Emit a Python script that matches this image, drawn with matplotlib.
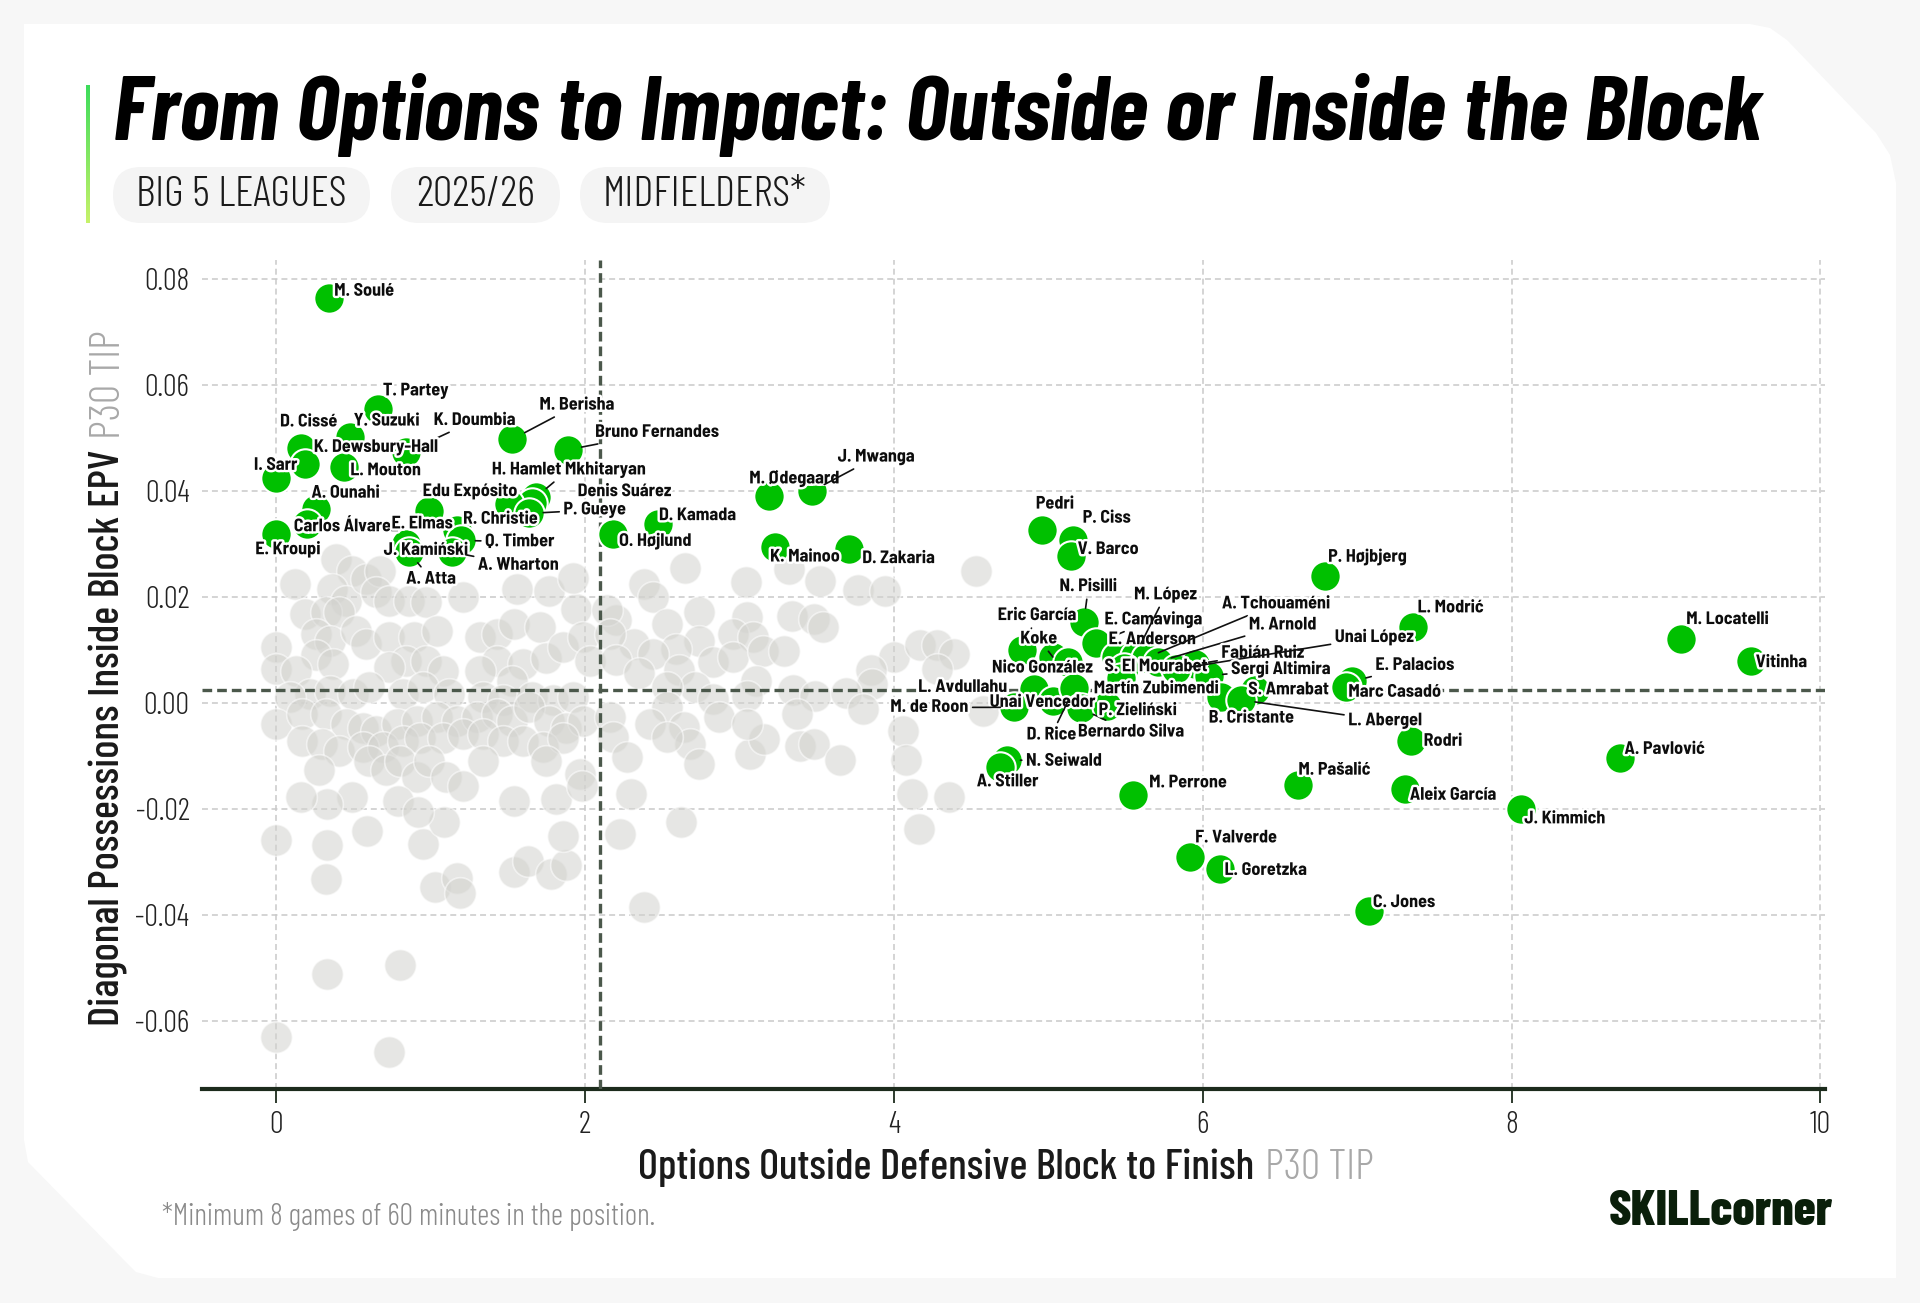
import numpy as np
import matplotlib
matplotlib.use("Agg")
import matplotlib.pyplot as plt
import matplotlib.patheffects as pe
from matplotlib.patches import Polygon, FancyBboxPatch
from matplotlib.transforms import IdentityTransform
from matplotlib.colors import LinearSegmentedColormap

# ---------------- data ----------------
player_names = [
    "M. Soulé", "T. Partey", "D. Cissé", "Y. Suzuki", "K. Doumbia", "K. Dewsbury-Hall",
    "L. Mouton", "I. Sarr", "M. Berisha", "Bruno Fernandes", "H. Hamlet Mkhitaryan",
    "Denis Suárez", "Edu Expósito", "P. Gueye", "A. Ounahi", "Carlos Álvarez", "E. Kroupi",
    "E. Elmas", "R. Christie", "Q. Timber", "J. Kamiński", "A. Atta", "A. Wharton",
    "O. Højlund", "D. Kamada", "M. Ødegaard", "J. Mwanga", "K. Mainoo", "D. Zakaria",
    "Pedri", "P. Ciss", "V. Barco", "N. Pisilli", "Eric García", "Koke", "E. Camavinga",
    "Nico González", "E. Anderson", "M. López", "A. Tchouaméni", "M. Arnold",
    "S. El Mourabet", "Fabián Ruiz", "Unai López", "Sergi Altimira", "Martín Zubimendi",
    "S. Amrabat", "B. Cristante", "L. Abergel", "L. Avdullahu", "Unai Vencedor",
    "M. de Roon", "D. Rice", "Bernardo Silva", "P. Zieliński", "E. Palacios", "Marc Casadó",
    "P. Højbjerg", "L. Modrić", "M. Locatelli", "Vitinha", "Rodri", "A. Pavlović",
    "Aleix García", "J. Kimmich", "C. Jones", "M. Pašalić", "M. Perrone", "F. Valverde",
    "L. Goretzka", "N. Seiwald", "A. Stiller",
]
player_x = [
    0.34, 0.66, 0.16, 0.48, 0.84, 0.19,
    0.44, 0.00, 1.53, 1.89, 1.68,
    1.66, 1.51, 1.64, 0.26, 0.20, 0.00,
    0.99, 1.17, 1.20, 0.84, 0.86, 1.14,
    2.18, 2.47, 3.19, 3.47, 3.23, 3.71,
    4.96, 5.16, 5.15, 5.23, 4.83, 5.03, 5.31,
    5.13, 5.44, 5.56, 5.63, 5.71,
    5.49, 5.95, 5.83, 6.04, 5.47,
    6.34, 6.12, 6.25, 4.91, 5.03,
    4.78, 5.17, 5.21, 5.38, 6.97, 6.93,
    6.79, 7.36, 9.10, 9.55, 7.35, 8.70,
    7.31, 8.06, 7.08, 6.62, 5.55, 5.92,
    6.11, 4.73, 4.69,
]
player_y = [
    0.0763, 0.0554, 0.0481, 0.0501, 0.0472, 0.0450,
    0.0444, 0.0424, 0.0497, 0.0477, 0.0387,
    0.0377, 0.0375, 0.0357, 0.0365, 0.0337, 0.0319,
    0.0362, 0.0325, 0.0306, 0.0299, 0.0284, 0.0284,
    0.0319, 0.0337, 0.0390, 0.0399, 0.0293, 0.0290,
    0.0326, 0.0306, 0.0277, 0.0152, 0.0100, 0.0086, 0.0112,
    0.0077, 0.0086, 0.0088, 0.0084, 0.0077,
    0.0065, 0.0072, 0.0063, 0.0051, 0.0047,
    0.0024, 0.0010, 0.0005, 0.0026, 0.0003,
    -0.0009, 0.0028, -0.0011, -0.0006, 0.0040, 0.0030,
    0.0238, 0.0142, 0.0120, 0.0078, -0.0073, -0.0104,
    -0.0163, -0.0201, -0.0393, -0.0155, -0.0175, -0.0292,
    -0.0314, -0.0108, -0.0122,
]

others_x = [
    0.39, 0.49, 0.12, 0.36, 0.45, 0.58, 0.67, 0.65, 0.73, 0.86, 0.97, 1.21, 1.56, 1.77, 1.94, 1.92,
    0.19, 0.32, 0.41, 0.26, 0.35, 0.52, 0.58, 0.00, 0.00, 0.26, 0.37, 0.13, 0.73, 0.89, 1.04, 0.84,
    0.97, 1.08, 0.73, 1.32, 1.43, 1.54, 1.71, 1.43, 1.32, 1.60, 1.53, 1.75, 1.86, 1.99, 2.03,
    0.22, 0.35, 0.50, 0.60, 0.82, 0.95, 1.12, 1.34, 1.47, 1.66, 1.79, 1.92, 0.09,
    0.00, 0.17, 0.32, 0.45, 0.56, 0.65, 0.78, 0.91, 1.04, 1.17, 1.30, 1.43, 1.53, 1.64, 1.77, 1.88, 1.99,
    0.17, 0.30, 0.41, 0.56, 0.69, 0.82, 0.93, 1.08, 1.21, 1.34, 1.47, 1.60, 1.73, 1.86,
    0.28, 0.60, 0.71, 0.80, 0.91, 0.99, 1.10, 1.34, 1.75, 1.97,
    0.00, 0.33, 0.32, 0.59, 0.49, 0.33, 0.16, 0.95, 1.09, 0.79, 0.92, 1.03, 1.17, 1.19,
    1.54, 1.63, 1.78, 1.88, 1.86, 1.81, 1.54, 1.21, 1.98, 2.38, 0.33, 0.80, 0.00, 0.73,
    2.65, 2.38, 2.44, 3.04, 3.32, 3.52, 3.77, 3.94, 4.53,
    2.74, 2.53, 2.20, 2.14, 3.05, 2.96, 3.09, 3.34, 3.48, 3.54,
    2.74, 2.59, 2.32, 2.16, 2.44, 2.20, 2.35, 2.83, 2.96, 3.15, 3.29, 3.11, 2.61, 2.71, 2.53,
    4.00, 4.17, 4.28, 4.39, 4.28, 3.85, 3.86, 3.35, 3.49, 3.69, 3.80, 3.05, 2.83, 2.87, 2.53,
    2.42, 2.64, 2.16, 2.18, 2.27, 2.68, 2.74, 2.53, 3.07, 3.16, 3.37, 3.39, 3.48, 3.65, 3.05,
    4.06, 4.58, 4.08, 4.12, 4.36, 4.16, 2.30, 2.23, 2.62,
]
others_y = [
    0.0271, 0.0249, 0.0224, 0.0214, 0.0192, 0.0233, 0.0249, 0.0208, 0.0192, 0.0192, 0.0189, 0.0199, 0.0214, 0.0211, 0.0177, 0.0236,
    0.0167, 0.0170, 0.0170, 0.0130, 0.0117, 0.0136, 0.0111, 0.0104, 0.0063, 0.0089, 0.0073, 0.0060, 0.0123, 0.0123, 0.0136, 0.0079,
    0.0079, 0.0060, 0.0067, 0.0123, 0.0130, 0.0148, 0.0142, 0.0079, 0.0060, 0.0073, 0.0041, 0.0085, 0.0104, 0.0123, 0.0079,
    0.0016, 0.0022, 0.0016, 0.0029, 0.0016, 0.0029, 0.0016, 0.0010, 0.0004, 0.0010, 0.0004, 0.0010, 0.0010,
    -0.0040, -0.0022, -0.0022, -0.0040, -0.0047, -0.0053, -0.0040, -0.0034, -0.0028, -0.0034, -0.0028, -0.0022, -0.0034, -0.0009, -0.0034, -0.0047, -0.0034,
    -0.0072, -0.0078, -0.0091, -0.0084, -0.0084, -0.0072, -0.0066, -0.0066, -0.0059, -0.0059, -0.0072, -0.0072, -0.0084, -0.0066,
    -0.0128, -0.0110, -0.0128, -0.0110, -0.0141, -0.0110, -0.0141, -0.0110, -0.0110, -0.0135,
    -0.0259, -0.0268, -0.0333, -0.0242, -0.0179, -0.0191, -0.0179, -0.0267, -0.0226, -0.0185, -0.0207, -0.0347, -0.0330, -0.0360,
    -0.0320, -0.0298, -0.0323, -0.0307, -0.0251, -0.0182, -0.0186, -0.0157, -0.0157, -0.0386, -0.0512, -0.0496, -0.0630, -0.0660,
    0.0254, 0.0224, 0.0199, 0.0227, 0.0252, 0.0230, 0.0213, 0.0211, 0.0248,
    0.0171, 0.0149, 0.0155, 0.0174, 0.0162, 0.0130, 0.0124, 0.0164, 0.0158, 0.0142,
    0.0117, 0.0101, 0.0111, 0.0130, 0.0092, 0.0080, 0.0055, 0.0076, 0.0086, 0.0098, 0.0098, 0.0041, 0.0061, 0.0029, 0.0029,
    0.0086, 0.0108, 0.0108, 0.0092, 0.0064, 0.0061, 0.0036, 0.0024, 0.0012, 0.0018, -0.0013, 0.0012, 0.0006, -0.0028, -0.0009,
    -0.0040, -0.0046, -0.0028, -0.0065, -0.0103, -0.0078, -0.0116, -0.0065, -0.0097, -0.0069, -0.0022, -0.0081, -0.0078, -0.0109, -0.0040,
    -0.0053, -0.0015, -0.0109, -0.0172, -0.0179, -0.0238, -0.0172, -0.0248, -0.0226,
]

mean_x = 2.10
mean_y = 0.0024
x_ticks = [0, 2, 4, 6, 8, 10]
y_ticks = [0.08, 0.06, 0.04, 0.02, 0.00, -0.02, -0.04, -0.06]
y_tick_labels = ["0.08", "0.06", "0.04", "0.02", "0.00", "-0.02", "-0.04", "-0.06"]

title = "From Options to Impact: Outside or Inside the Block"
tags = ["BIG 5 LEAGUES", "2025/26", "MIDFIELDERS*"]
x_label = "Options Outside Defensive Block to Finish"
y_label = "Diagonal Possessions Inside Block EPV"
unit_label = "P30 TIP"
footnote = "*Minimum 8 games of 60 minutes in the position."

# label offsets in points (dx, dy); names in RIGHT_ALIGNED anchor on the text's right edge
label_offsets = {
    "M. Soulé": (4, 5), "T. Partey": (3.5, 13), "D. Cissé": (-15, 18.5), "Y. Suzuki": (2.5, 11.5),
    "K. Doumbia": (20, 23), "K. Dewsbury-Hall": (6, 12), "L. Mouton": (4.5, -2.5), "I. Sarr": (-16, 9),
    "M. Berisha": (19.5, 24.5), "Bruno Fernandes": (19.5, 12.5), "H. Hamlet Mkhitaryan": (-31.5, 20),
    "Denis Suárez": (32.5, 8), "Edu Expósito": (6, 9), "P. Gueye": (24.5, 2.5), "A. Ounahi": (-3.5, 11.5),
    "Carlos Álvarez": (-9.5, -2), "E. Kroupi": (-15, -11.5), "E. Elmas": (-27, -9.5),
    "R. Christie": (4.5, 8), "Q. Timber": (17, -1), "J. Kamiński": (-16, -4.5), "A. Atta": (-2, -19.5),
    "A. Wharton": (18.5, -9.5), "O. Højlund": (4.5, -5.5), "D. Kamada": (1, 6), "M. Ødegaard": (-14, 12.5),
    "J. Mwanga": (18.5, 24.5), "K. Mainoo": (-3.5, -7), "D. Zakaria": (9.5, -7), "Pedri": (-4.5, 18.5),
    "P. Ciss": (7, 16), "V. Barco": (4.5, 4.5), "N. Pisilli": (-17.5, 25.5), "Eric García": (-17.5, 24.5),
    "Koke": (-23.5, 13), "E. Camavinga": (6, 17), "Nico González": (-55, -4.5), "E. Anderson": (-5.5, 12.5),
    "M. López": (-0.5, 44), "A. Tchouaméni": (55, 39), "M. Arnold": (65.5, 26.5),
    "S. El Mourabet": (-14, 1), "Fabián Ruiz": (19, 8), "Unai López": (114, 23), "Sergi Altimira": (16, 4.5),
    "Martín Zubimendi": (-19.5, -8), "S. Amrabat": (-5, 0), "B. Cristante": (-9, -15), "L. Abergel": (77, -15),
    "L. Avdullahu": (-19.5, 1), "Unai Vencedor": (-45.5, -1), "M. de Roon": (-33, 0), "D. Rice": (-34.5, -34),
    "Bernardo Silva": (-2, -17), "P. Zieliński": (-6, -3.5), "E. Palacios": (16.5, 11.5), "Marc Casadó": (1.5, -4),
    "P. Højbjerg": (2.5, 14), "L. Modrić": (3.5, 14), "M. Locatelli": (3.5, 14), "Vitinha": (3.5, -1),
    "Rodri": (9, 0), "A. Pavlović": (3.5, 6), "Aleix García": (3.5, -4.5), "J. Kimmich": (2.5, -7),
    "C. Jones": (2.5, 6), "M. Pašalić": (0, 10.5), "M. Perrone": (11.5, 9), "F. Valverde": (3.5, 14),
    "L. Goretzka": (3.5, -1), "N. Seiwald": (14, -1), "A. Stiller": (-17, -10.5),
}
RIGHT_ALIGNED = {"Edu Expósito", "L. Avdullahu", "M. de Roon"}
LEADERS = {
    "K. Doumbia", "M. Berisha", "Bruno Fernandes", "H. Hamlet Mkhitaryan", "P. Gueye", "Q. Timber",
    "A. Atta", "A. Wharton", "J. Mwanga", "N. Pisilli", "M. López", "E. Camavinga", "A. Tchouaméni",
    "M. Arnold", "Eric García", "Unai López", "Koke", "Fabián Ruiz", "Sergi Altimira", "L. Abergel",
    "M. de Roon", "D. Rice", "Bernardo Silva", "E. Palacios", "N. Seiwald",
}

# ---------------- fonts ----------------
FONT = ["Barlow Condensed", "DejaVu Sans"]
LABEL_FONT = ["Barlow Semi Condensed", "Barlow Condensed", "DejaVu Sans"]
plt.rcParams["font.family"] = FONT

W, H = 1920, 1303
PX = IdentityTransform()

fig = plt.figure(figsize=(W / 100, H / 100), dpi=100, facecolor="#f7f7f7")
renderer = fig.canvas.get_renderer()


def fit_width(t, target):
    w = t.get_window_extent(renderer).width
    t.set_fontsize(t.get_fontsize() * target / w)


# card background with chamfered corners (pixel coords from top)
card = [(24, 24), (1750, 24), (1770, 28), (1787, 40), (1876, 133), (1890, 155), (1896, 183),
        (1896, 1278), (158, 1278), (136, 1272), (122, 1258), (28, 1162), (24, 1140)]
fig.add_artist(Polygon([(x, H - y) for x, y in card], closed=True, transform=PX,
                       facecolor="white", edgecolor="none", zorder=0))

# accent bar
bar_ax = fig.add_axes([86 / W, 1 - 223 / H, 4 / W, 138 / H])
bar_ax.imshow(np.linspace(0, 1, 100).reshape(-1, 1), aspect="auto",
              cmap=LinearSegmentedColormap.from_list("accent", ["#3ddc5b", "#c6f26a"]))
bar_ax.axis("off")

# title
t = fig.text(113, H - 140, title, transform=PX, ha="left", va="baseline",
             fontsize=56, fontweight="bold", fontstyle="italic", color="black")
fit_width(t, 1650)

# tag pills
pill_boxes = [(113, 257), (391, 169), (580, 250)]
tag_size = None
for (x0, w), tag in zip(pill_boxes, tags):
    fig.add_artist(FancyBboxPatch((x0, H - 223), w, 56, boxstyle="round,pad=0,rounding_size=28",
                                  transform=PX, facecolor="#f4f4f4", edgecolor="none", zorder=1))
    tt = fig.text(x0 + w / 2, H - 195, tag, transform=PX, ha="center", va="center",
                  fontsize=22, fontweight=300, color="#1a1a1a", zorder=2)
    if tag_size is None:
        fit_width(tt, 211)
        tag_size = tt.get_fontsize()
    else:
        tt.set_fontsize(tag_size)

# ---------------- scatter ----------------
ax = fig.add_axes([202 / W, 1 - 1089 / H, (1825 - 202) / W, (1089 - 260) / H])
ax.set_facecolor("none")
ax.set_xlim(-0.48, 10.03)
ax.set_ylim(-0.0729, 0.0835)

ax.grid(True, color="#c9c9c9", lw=1.1, ls=(0, (3.9, 2.6)), zorder=0)
ax.set_axisbelow(True)

ax.scatter(others_x, others_y, s=520, c="#d2d2ce", alpha=0.55,
           edgecolors="white", linewidths=1.2, zorder=2)

ax.axvline(mean_x, color="#4b584b", lw=2.4, ls=(0, (2.9, 1.5)), zorder=3)
ax.axhline(mean_y, color="#4b584b", lw=2.4, ls=(0, (2.9, 1.5)), zorder=3)

ax.scatter(player_x, player_y, s=480, c="#00c000",
           edgecolors="white", linewidths=1.5, zorder=4)

halo = [pe.withStroke(linewidth=3.5, foreground="white")]
for name, px_, py_ in zip(player_names, player_x, player_y):
    dx, dy = label_offsets[name]
    ha = "right" if name in RIGHT_ALIGNED else "left"
    arrow = None
    if name in LEADERS:
        arrow = dict(arrowstyle="-", color="#111111", lw=1.2, shrinkA=1, shrinkB=10)
    ax.annotate(name, (px_, py_), xytext=(dx, dy), textcoords="offset points",
                ha=ha, va="center", fontsize=13, fontweight=700, color="#0d0d0d",
                family=LABEL_FONT, path_effects=halo, arrowprops=arrow, zorder=6)

for side in ["left", "top", "right"]:
    ax.spines[side].set_visible(False)
ax.spines["bottom"].set_linewidth(3)
ax.spines["bottom"].set_color("#1c2b1c")
ax.set_xticks(x_ticks)
ax.set_yticks(y_ticks)
ax.set_yticklabels(y_tick_labels)
ax.tick_params(axis="x", length=10, width=1.3, color="#1c2b1c", pad=6, labelsize=22, labelcolor="#222222")
ax.tick_params(axis="y", length=0, pad=9, labelsize=22, labelcolor="#222222")
for lab in ax.get_xticklabels() + ax.get_yticklabels():
    lab.set_fontweight(300)


def two_tone(main, extra, center, total_px, vertical=False):
    rot = 90 if vertical else 0
    kw = dict(transform=PX, rotation=rot, rotation_mode="anchor", ha="left", va="baseline", fontsize=24)
    t1 = fig.text(0, 0, main, color="#1a1a1a", fontweight=500, **kw)
    t2 = fig.text(0, 0, extra, color="#a8a8a8", fontweight=300, **kw)

    def length(tx):
        bb = tx.get_window_extent(renderer)
        return bb.height if vertical else bb.width

    gap = 0.25 * 24 * 100 / 72
    size = 24 * total_px / (length(t1) + length(t2) + gap)
    t1.set_fontsize(size)
    t2.set_fontsize(size)
    l1 = length(t1)
    gap = 0.25 * size * 100 / 72
    total = l1 + gap + length(t2)
    cx, cy = center
    if vertical:
        start = cy - total / 2
        t1.set_position((cx, start))
        t2.set_position((cx, start + l1 + gap))
    else:
        start = cx - total / 2
        t1.set_position((start, cy))
        t2.set_position((start + l1 + gap, cy))


two_tone(x_label, unit_label, (1006, H - 1179), 735)
two_tone(y_label, unit_label, (120, H - 678), 695, vertical=True)

fn = fig.text(162, H - 1225, footnote, transform=PX, ha="left", va="baseline",
              fontsize=15, fontweight=300, color="#8a8a8a")
fit_width(fn, 494)

logo = fig.text(1833, H - 1225, "SKILLcorner", transform=PX, ha="right", va="baseline",
                fontsize=30, fontweight=800, color="#0a1f0a")
fit_width(logo, 225)

fig.savefig("out.png", dpi=100, facecolor=fig.get_facecolor())
